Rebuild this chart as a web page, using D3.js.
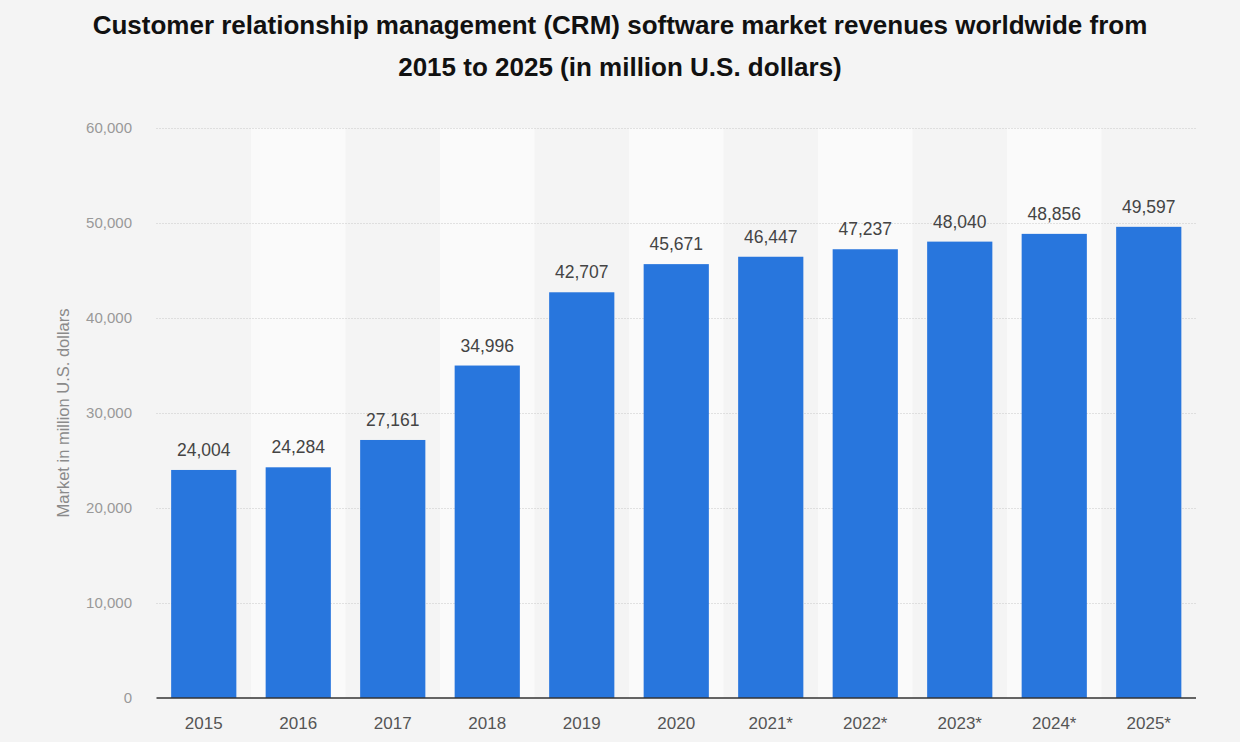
<!DOCTYPE html>
<html><head><meta charset="utf-8">
<script src="https://cdn.jsdelivr.net/npm/d3@7"></script>
<style>
html,body{margin:0;padding:0;background:#f4f4f4;}
svg{display:block;font-family:"Liberation Sans",Arial,sans-serif;}
</style></head>
<body><svg id="c" width="1240" height="742"></svg>
<script>
const categories = ["2015","2016","2017","2018","2019","2020","2021*","2022*","2023*","2024*","2025*"];
const values = [24004,24284,27161,34996,42707,45671,46447,47237,48040,48856,49597];
const yTicks = [0,10000,20000,30000,40000,50000,60000];
const titleLines = ["Customer relationship management (CRM) software market revenues worldwide from","2015 to 2025 (in million U.S. dollars)"];
const yAxisTitle = "Market in million U.S. dollars";

const svg = d3.select("#c");
const L = 156.5, R = 1196, T = 128, B = 698;
const x = d3.scaleBand().domain(categories).range([L, R]).paddingInner(0.31).paddingOuter(0.155);
const xb = d3.scaleBand().domain(categories).range([L, R]);
const y = d3.scaleLinear().domain([0, 60000]).range([B, T]);

svg.append("rect").attr("width",1240).attr("height",742).attr("fill","#f4f4f4");

// alternating bands
svg.append("g").selectAll("rect").data(categories.filter((d,i)=>i%2===1)).join("rect")
  .attr("x", d=>xb(d)).attr("y", T).attr("width", xb.bandwidth()).attr("height", B-T).attr("fill","#fafafa");

// grid
svg.append("g").selectAll("line").data(yTicks.filter(d=>d>0)).join("line")
  .attr("x1", L).attr("x2", R).attr("y1", d=>Math.round(y(d))+0.5).attr("y2", d=>Math.round(y(d))+0.5)
  .attr("stroke","#c8c8c8").attr("stroke-width",1).attr("stroke-dasharray","1,2");

// y tick labels
svg.append("g").selectAll("text").data(yTicks).join("text")
  .attr("x", 132).attr("y", d=>y(d)+5).attr("text-anchor","end")
  .attr("fill","#999").attr("font-size",15).text(d=>d3.format(",")(d));

// bars
svg.append("g").selectAll("rect").data(values).join("rect")
  .attr("x",(d,i)=>x(categories[i])).attr("y",d=>y(d)).attr("width",x.bandwidth()).attr("height",d=>B-y(d))
  .attr("fill","#2876dd");

// baseline
svg.append("line").attr("x1",L).attr("x2",R).attr("y1",B).attr("y2",B).attr("stroke","#333").attr("stroke-width",1.3);

// value labels
svg.append("g").selectAll("text").data(values).join("text")
  .attr("x",(d,i)=>x(categories[i])+x.bandwidth()/2).attr("y",d=>y(d)-14)
  .attr("text-anchor","middle").attr("fill","#444").attr("font-size",17.5).text(d=>d3.format(",")(d));

// x labels
svg.append("g").selectAll("text").data(categories).join("text")
  .attr("x",d=>xb(d)+xb.bandwidth()/2).attr("y",729).attr("text-anchor","middle")
  .attr("fill","#555").attr("font-size",17).text(d=>d);

// y axis title
svg.append("text").attr("transform","translate(69,413) rotate(-90)").attr("text-anchor","middle")
  .attr("fill","#8a8a8a").attr("font-size",16.5).text(yAxisTitle);

// title
svg.append("g").selectAll("text").data(titleLines).join("text")
  .attr("x",620).attr("y",(d,i)=>34+i*42).attr("text-anchor","middle")
  .attr("fill","#111").attr("font-weight","bold").attr("font-size",26).text(d=>d);
</script></body></html>
